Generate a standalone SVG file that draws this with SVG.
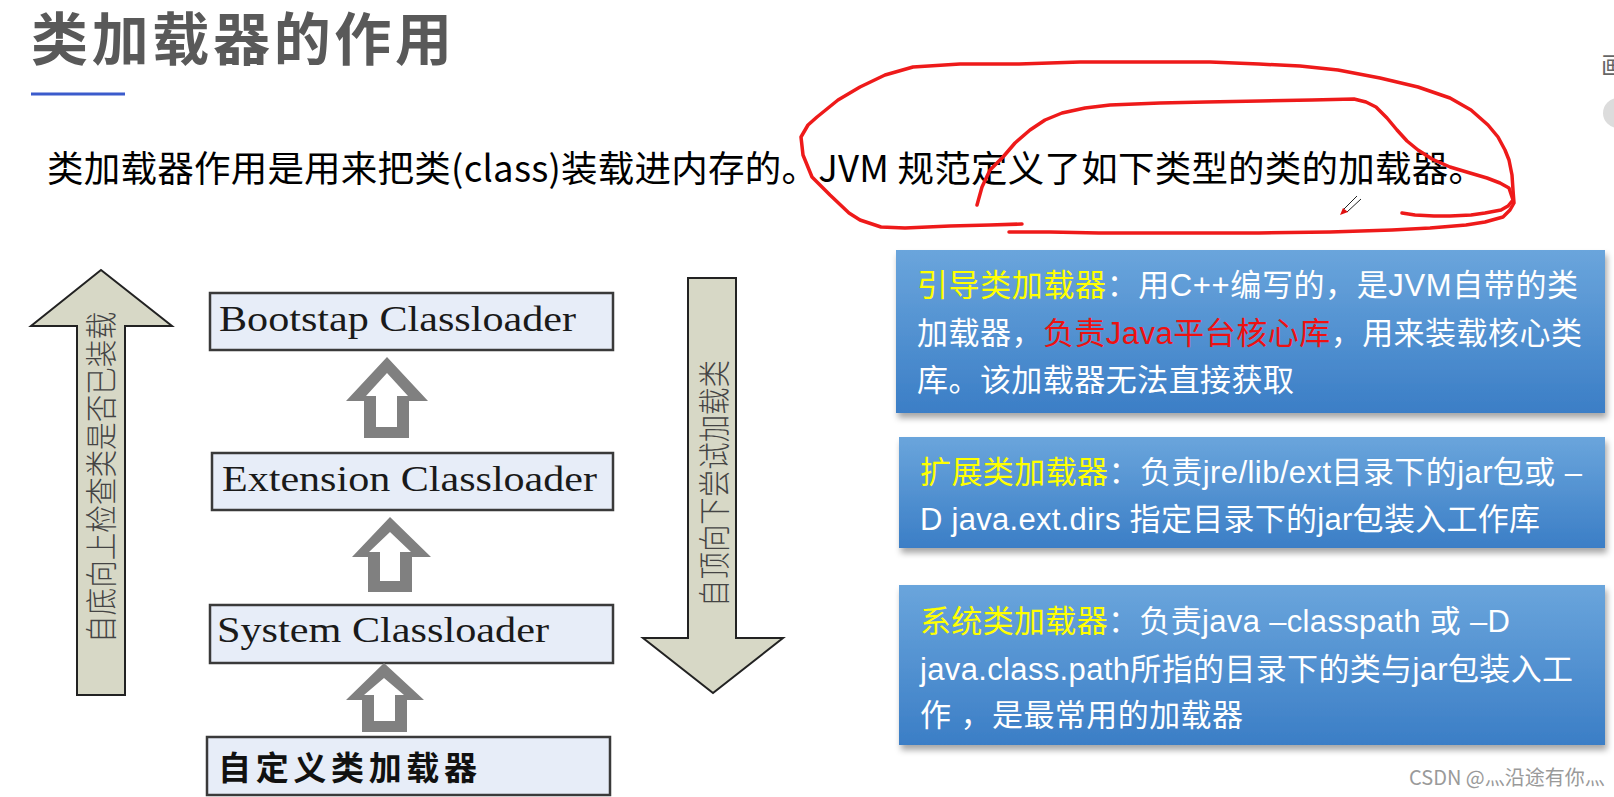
<svg xmlns="http://www.w3.org/2000/svg" width="1614" height="797" viewBox="0 0 1614 797">
<defs>
<style>
.cjk{font-family:"Noto Sans CJK SC","Noto Sans",sans-serif}
.panelText{font-family:"Liberation Sans","Noto Sans CJK SC",sans-serif;font-size:31px;fill:#ffffff}
.hl{fill:#ffff00}
.red{fill:#ee1111}
.box{fill:#e7edf8;stroke:#3a3a3a;stroke-width:2.5}
.boxText{font-family:"Liberation Serif","Noto Sans CJK SC",serif;font-size:35px;fill:#1a1a1a}
.bigArrow{fill:#d7d8c6;stroke:#222222;stroke-width:2}
.arrowText{font-family:"Noto Sans CJK SC",sans-serif;font-size:32px;font-weight:300;fill:#444444}
.hollowOuter{fill:#808080}
.hollowInner{fill:#ffffff}
.panel{fill:url(#panelGrad);filter:url(#shadow)}
.ink{fill:none;stroke:#ee1a1a;stroke-width:3.5;stroke-linecap:round;stroke-linejoin:round}
</style>
<linearGradient id="panelGrad" x1="0" y1="0" x2="0" y2="1">
<stop offset="0" stop-color="#6aa5dc"/>
<stop offset="1" stop-color="#3b7ec6"/>
</linearGradient>
<filter id="shadow" x="-5%" y="-10%" width="110%" height="130%">
<feDropShadow dx="2" dy="5" stdDeviation="3" flood-color="#000000" flood-opacity="0.35"/>
</filter>
<filter id="blur" x="-10%" y="-200%" width="120%" height="500%">
<feGaussianBlur stdDeviation="1.5"/>
</filter>
</defs>
<rect width="1614" height="797" fill="#ffffff"/>

<g id="title">
<text class="cjk" x="31" y="60" font-size="57" font-weight="bold" fill="#595959" textLength="421" lengthAdjust="spacing">类加载器的作用</text>
<line x1="33" y1="98" x2="123" y2="98" stroke="#9a9a9a" stroke-width="3" filter="url(#blur)"/>
<line x1="31" y1="94" x2="125" y2="94" stroke="#3b5bcc" stroke-width="3"/>
</g>

<g id="intro">
<text class="cjk" x="47" y="182" font-size="36.5" fill="#000000" textLength="1438" lengthAdjust="spacing">类加载器作用是用来把类(class)装载进内存的。JVM 规范定义了如下类型的类的加载器。</text>
</g>

<g id="annotation">
<path class="ink" d="M1022,224 L990,225 L950,226 L905,228 L881,227 L860,220 L849,213 L830,195 L812,177 L803,155 L801,137 L808,125 L817,117 L838,100 L860,87 L885,75 L913,67 L960,64 L1019,64 L1080,62 L1152,62 L1210,62 L1259,64 L1300,66 L1338,70 L1380,78 L1418,87 L1450,98 L1471,110 L1488,125 L1498,137 L1505,150 L1509,160 L1512,175 L1513,190 L1514,203 L1510,210 L1503,217 L1485,222 L1466,225 L1430,228 L1392,230 L1330,232 L1259,233 L1180,233 L1099,233 L1050,232 L1009,232"/>
<path class="ink" d="M977,205 L982,187 L990,170 L1003,157 L1015,143 L1030,130 L1045,120 L1062,113 L1085,108 L1110,105 L1160,103 L1206,102 L1260,101 L1312,100 L1354,99 L1366,102 L1376,107 L1387,118 L1397,130 L1407,141 L1418,150 L1432,159 L1450,167 L1470,173 L1487,178 L1500,183 L1509,188 L1513,200 L1508,206 L1501,210 L1485,213 L1471,215 L1450,216 L1434,216 L1415,215 L1402,213"/>
<g id="cursor">
<line x1="1344" y1="209" x2="1357" y2="196" stroke="#222" stroke-width="1"/>
<line x1="1347" y1="212" x2="1361" y2="199" stroke="#222" stroke-width="1"/>
<polygon points="1340,215 1343,208 1348,212" fill="#e01010"/>
</g>
</g>

<g id="ui-corner">
<text class="cjk" x="1601" y="74" font-size="24" fill="#666666">画</text>
<circle cx="1618" cy="113" r="15" fill="#dcdcdc"/>
</g>

<g id="arrow-bottom-up">
<polygon class="bigArrow" points="101,270 172,326 125,326 125,695 77,695 77,326 31,326"/>
<text class="arrowText" transform="translate(113,477.5) rotate(-90)" x="0" y="0" text-anchor="middle" textLength="331" lengthAdjust="spacingAndGlyphs">自底向上检查类是否已装载</text>
</g>

<g id="arrow-top-down">
<polygon class="bigArrow" points="688,278 736,278 736,638 783,638 713,693 643,638 688,638"/>
<text class="arrowText" transform="translate(726,483.5) rotate(-90)" x="0" y="0" text-anchor="middle" textLength="247" lengthAdjust="spacingAndGlyphs">自顶向下尝试加载类</text>
</g>

<g id="node-bootstrap">
<rect class="box" x="210" y="293" width="403" height="57"/>
<text class="boxText" x="219" y="331" textLength="357" lengthAdjust="spacingAndGlyphs">Bootstap Classloader</text>
</g>
<g id="node-extension">
<rect class="box" x="212" y="453" width="401" height="57"/>
<text class="boxText" x="222" y="491" textLength="375" lengthAdjust="spacingAndGlyphs">Extension Classloader</text>
</g>
<g id="node-system">
<rect class="box" x="210" y="605" width="403" height="58"/>
<text class="boxText" x="217" y="642" textLength="332" lengthAdjust="spacingAndGlyphs">System Classloader</text>
</g>
<g id="node-custom">
<rect class="box" x="207" y="737" width="403" height="58"/>
<text class="cjk" x="218" y="780" font-size="33" font-weight="bold" fill="#111111" textLength="259" lengthAdjust="spacing">自定义类加载器</text>
</g>

<g id="connectors">
<g id="conn-ext-boot">
<polygon class="hollowOuter" points="387,357 428,401 409,401 409,438 364,438 364,401 346,401"/>
<polygon class="hollowInner" points="387,373 408,396 397,396 397,427 376,427 376,396 366,396"/>
</g>
<g id="conn-sys-ext">
<polygon class="hollowOuter" points="390,517 431,557 412,557 412,592 368,592 368,557 352,557"/>
<polygon class="hollowInner" points="390,532 411,552 400,552 400,581 380,581 380,552 369,552"/>
</g>
<g id="conn-custom-sys">
<polygon class="hollowOuter" points="384,663 424,700 407,700 407,732 362,732 362,700 346,700"/>
<polygon class="hollowInner" points="384,678 404,695 395,695 395,721 374,721 374,695 364,695"/>
</g>
</g>

<g id="panel-bootstrap">
<rect class="panel" x="896" y="250" width="709" height="163"/>
<text class="panelText" x="917" y="296" textLength="661" lengthAdjust="spacing"><tspan class="hl">引导类加载器</tspan>：用C++编写的，是JVM自带的类</text>
<text class="panelText" x="917" y="344" textLength="665" lengthAdjust="spacing">加载器，<tspan class="red">负责Java平台核心库</tspan>，用来装载核心类</text>
<text class="panelText" x="917" y="391" textLength="377" lengthAdjust="spacing">库。该加载器无法直接获取</text>
</g>

<g id="panel-extension">
<rect class="panel" x="899" y="437" width="706" height="111"/>
<text class="panelText" x="920" y="483" textLength="662" lengthAdjust="spacing"><tspan class="hl">扩展类加载器</tspan>：负责jre/lib/ext目录下的jar包或 –</text>
<text class="panelText" x="920" y="530" textLength="620" lengthAdjust="spacing">D java.ext.dirs 指定目录下的jar包装入工作库</text>
</g>

<g id="panel-system">
<rect class="panel" x="899" y="585" width="706" height="160"/>
<text class="panelText" x="920" y="632" textLength="590" lengthAdjust="spacing"><tspan class="hl">系统类加载器</tspan>：负责java –classpath 或 –D</text>
<text class="panelText" x="920" y="680" textLength="653" lengthAdjust="spacing">java.class.path所指的目录下的类与jar包装入工</text>
<text class="panelText" x="920" y="726" textLength="323" lengthAdjust="spacing">作 ，是最常用的加载器</text>
</g>

<g id="watermark">
<text class="cjk" x="1409" y="785" font-size="20" fill="#9a9a9a">CSDN @灬沿途有你灬</text>
</g>
</svg>
